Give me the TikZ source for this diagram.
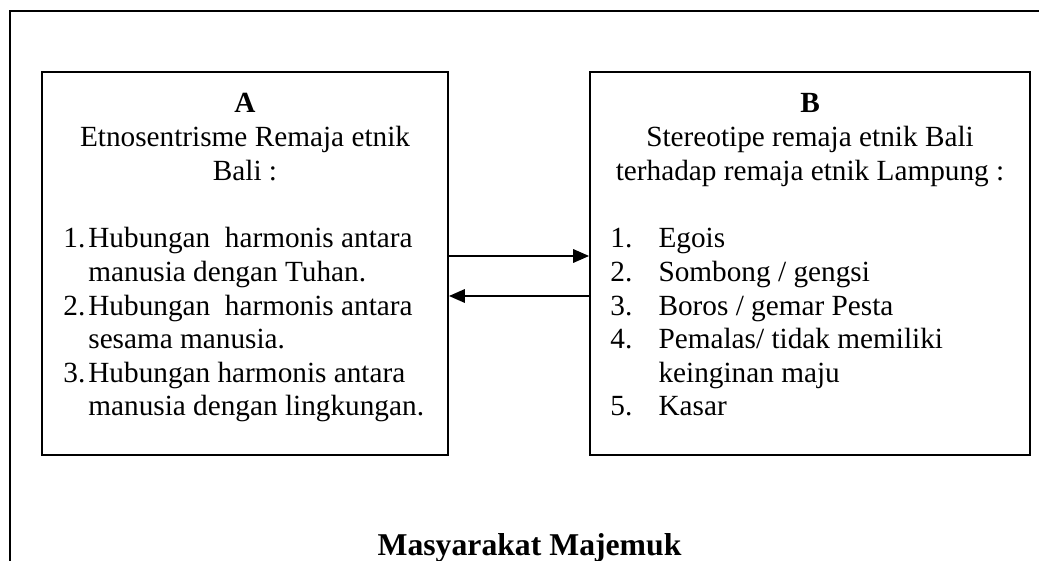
\documentclass[tikz,border=0pt]{standalone}
\usepackage{fontspec}
\setmainfont{Liberation Serif}
\usepackage{array}
\usetikzlibrary{arrows.meta,calc}

\tikzset{
	panel/.style={draw, line width=0.75pt, inner sep=0pt},
	txt/.style={inner sep=0pt, font=\fontsize{12}{13.75}\selectfont},
	link/.style={line width=0.75pt, -{Triangle[length=6.5pt,width=5.5pt]}},
}

\begin{document}
\begin{tikzpicture}[x=0.41pt, y=-0.41pt]
	\useasboundingbox (0,0) rectangle (1039,561);
	\draw[line width=1pt] (1045,11) -- (10,11) -- (10,570);
	\node[panel, minimum width=166.5pt, minimum height=157pt] (boxA) at (245,263.5) {};
	\node[panel, minimum width=180.4pt, minimum height=157pt] (boxB) at (810,263.5) {};
	\node[txt, anchor=base] (headA) at (245,113) {\begin{tabular}[t]{@{}c@{}}
		\textbf{A}\\ Etnosentrisme Remaja etnik\\ Bali :\end{tabular}};
	\node[txt, anchor=base west] (listA) at (63,248) {\begin{tabular}[t]{@{}p{10.2pt}@{}l@{}}
		1. & Hubungan\ \ harmonis antara\\ & manusia dengan Tuhan.\\
		2. & Hubungan\ \ harmonis antara\\ & sesama manusia.\\
		3. & Hubungan harmonis antara\\ & manusia dengan lingkungan.\end{tabular}};
	\node[txt, anchor=base] (headB) at (810,113) {\begin{tabular}[t]{@{}c@{}}
		\textbf{B}\\ Stereotipe remaja etnik Bali\\ terhadap remaja etnik Lampung :\end{tabular}};
	\node[txt, anchor=base west] (listB) at (610,248) {\begin{tabular}[t]{@{}p{19.7pt}@{}l@{}}
		1. & Egois\\ 2. & Sombong / gengsi\\ 3. & Boros / gemar Pesta\\
		4. & Pemalas/ tidak memiliki\\ & keinginan maju\\ 5. & Kasar\end{tabular}};
	\node[txt, anchor=base, font=\fontsize{13}{15}\selectfont\bfseries] (society) at (529.5,555) {Masyarakat Majemuk};
	% two-way relation
	\draw[link] (boxA.east |- 0,256) -- (boxB.west |- 0,256);
	\draw[link] (boxB.west |- 0,296) -- (boxA.east |- 0,296);
\end{tikzpicture}
\end{document}
